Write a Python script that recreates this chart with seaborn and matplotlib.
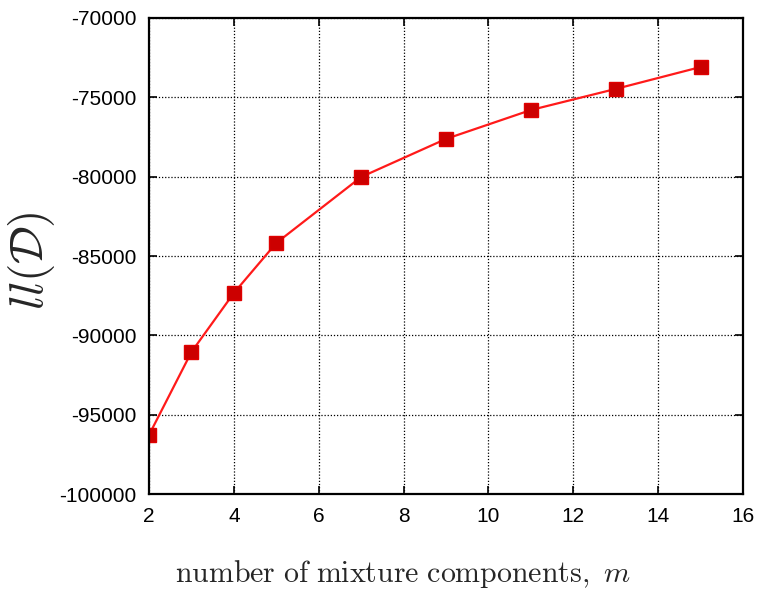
import pandas as pd
import matplotlib
matplotlib.use('Agg')
import matplotlib.pyplot as plt
import seaborn as sns

# number of mixture components and log-likelihood
components = [2, 3, 4, 5, 7, 9, 11, 13, 15]
loglik = [-96280, -91050, -87330, -84180, -80020, -77620, -75800, -74470, -73090]
x_ticks = [2, 4, 6, 8, 10, 12, 14, 16]
y_ticks = [-100000, -95000, -90000, -85000, -80000, -75000, -70000]


def main():
    df = pd.DataFrame({'m': components, 'll': loglik})

    sns.set_style('ticks')
    plt.rcParams['font.family'] = ['Liberation Sans', 'DejaVu Sans']
    plt.rcParams['mathtext.fontset'] = 'cm'
    plt.rcParams['axes.unicode_minus'] = False

    fig = plt.figure(figsize=(7.58, 5.92), dpi=100)
    ax = fig.add_axes([0.1966, 0.1655, 0.7836, 0.8041])

    sns.lineplot(data=df, x='m', y='ll', ax=ax, color='#ff1a1a', linewidth=1.6,
                 marker='s', markersize=10.5, markerfacecolor='#cc0000',
                 markeredgecolor='#e00000', markeredgewidth=1)

    ax.set_xlim(2, 16)
    ax.set_ylim(-100000, -70000)
    ax.set_xticks(x_ticks)
    ax.set_yticks(y_ticks)
    ax.grid(True, color='black', linestyle=(0, (1, 1.5)), linewidth=0.9)
    ax.set_axisbelow(True)
    for s in ax.spines.values():
        s.set_linewidth(1.6)
        s.set_color('black')
    ax.tick_params(direction='in', length=6, width=1.2, top=True, right=True,
                   labelsize=15, pad=9, colors='black')

    ax.set_xlabel(r'$\mathrm{number\ of\ mixture\ components,\ }m$', fontsize=21.5)
    ax.xaxis.set_label_coords(0.428, -0.135)
    ax.set_ylabel(r'$ll(\mathcal{D})$', fontsize=34)
    ax.yaxis.set_label_coords(-0.155, 0.49)

    fig.savefig('out.png', dpi=100)
    plt.close(fig)


if __name__ == '__main__':
    main()
